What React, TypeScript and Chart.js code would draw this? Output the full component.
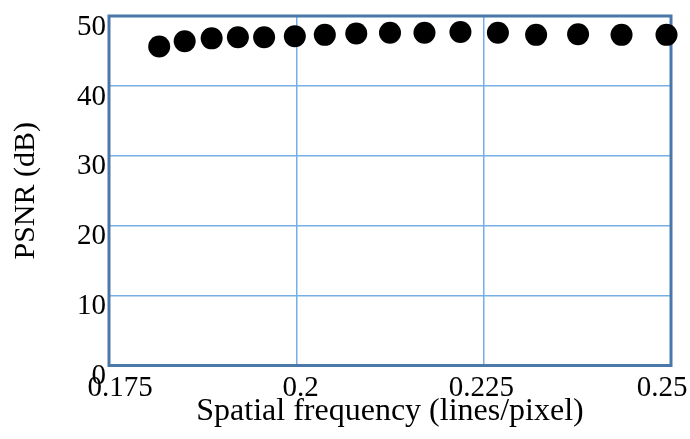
import { useEffect, useRef } from "react";
import { Chart, registerables } from "chart.js";

Chart.register(...registerables);

const freqs = [0.1817, 0.1851, 0.1887, 0.1922, 0.1957, 0.1998, 0.2038, 0.208, 0.2125, 0.2171, 0.2219, 0.2269, 0.232, 0.2376, 0.2434, 0.2494];
const psnr = [45.65, 46.4, 46.8, 46.95, 46.95, 47.1, 47.3, 47.5, 47.6, 47.6, 47.7, 47.6, 47.3, 47.4, 47.3, 47.3];
const xTickValues = [0.175, 0.2, 0.225, 0.25];
const xTitle = "Spatial frequency (lines/pixel)";
const yTitle = "PSNR (dB)";

const FONT = "'Liberation Serif', 'Times New Roman', serif";
const GRID = "#78aee6";
const FRAME = "#4a78a8";

const framePlugin = {
  id: "frame",
  beforeDatasetsDraw(chart: any) {
    const { ctx, chartArea: a } = chart;
    ctx.save();
    ctx.strokeStyle = FRAME;
    ctx.lineWidth = 3;
    ctx.strokeRect(a.left, a.top, a.right - a.left, a.bottom - a.top);
    ctx.restore();
  },
};

export default function App() {
  const ref = useRef<HTMLCanvasElement>(null);
  useEffect(() => {
    if (!ref.current) return;
    const chart = new Chart(ref.current, {
      type: "scatter",
      data: {
        datasets: [
          {
            data: freqs.map((f, i) => ({ x: f, y: psnr[i] })),
            backgroundColor: "#000",
            borderWidth: 0,
            pointRadius: 11,
            pointHoverRadius: 11,
            clip: false as any,
          },
        ],
      },
      options: {
        animation: false,
        responsive: false,
        layout: { padding: { top: 16, right: 19, left: 0, bottom: 0 } },
        plugins: { legend: { display: false }, tooltip: { enabled: false } },
        scales: {
          x: {
            type: "linear",
            position: "bottom",
            weight: 0,
            min: 0.175,
            max: 0.25,
            ticks: { display: false, stepSize: 0.025 },
            grid: { color: GRID, lineWidth: 1.5, drawTicks: false },
            border: { display: false },
            afterFit: (s: any) => {
              s.height = 0;
              s.paddingLeft = 0;
              s.paddingRight = 0;
            },
          },
          xl: {
            type: "linear",
            position: "bottom",
            weight: 1,
            min: 0.1734764,
            max: 0.2512404,
            afterBuildTicks: (s: any) => {
              s.ticks = xTickValues.map((v) => ({ value: v }));
            },
            ticks: {
              font: { family: FONT, size: 29 },
              color: "#000",
              padding: 5,
              maxRotation: 0,
              autoSkip: false,
              callback: (v: any) => `${v}`,
            },
            grid: { display: false, drawTicks: false },
            border: { display: false },
            title: {
              display: true,
              text: xTitle,
              font: { family: FONT, size: 32 },
              color: "#000",
              padding: { top: 0, bottom: 8 },
            },
            afterFit: (s: any) => {
              s.height = 73.5;
              s.paddingLeft = 0;
              s.paddingRight = 0;
            },
          },
          y: {
            type: "linear",
            min: 0,
            max: 50,
            ticks: {
              stepSize: 10,
              font: { family: FONT, size: 29 },
              color: "#000",
              padding: 3,
              labelOffset: 11,
            },
            grid: { color: GRID, lineWidth: 1.5, drawTicks: false },
            border: { display: false },
            title: {
              display: true,
              text: yTitle,
              font: { family: FONT, size: 30 },
              color: "#000",
              padding: { top: 8, bottom: 0 },
            },
            afterFit: (s: any) => {
              s.width = 109;
              s.paddingTop = 0;
              s.paddingBottom = 0;
            },
          },
        },
      } as any,
      plugins: [framePlugin],
    });
    return () => chart.destroy();
  }, []);
  return (
    <div style={{ position: "absolute", left: 0, top: 0, width: 690, height: 439 }}>
      <canvas ref={ref} width={690} height={439} style={{ display: "block" }} />
    </div>
  );
}
